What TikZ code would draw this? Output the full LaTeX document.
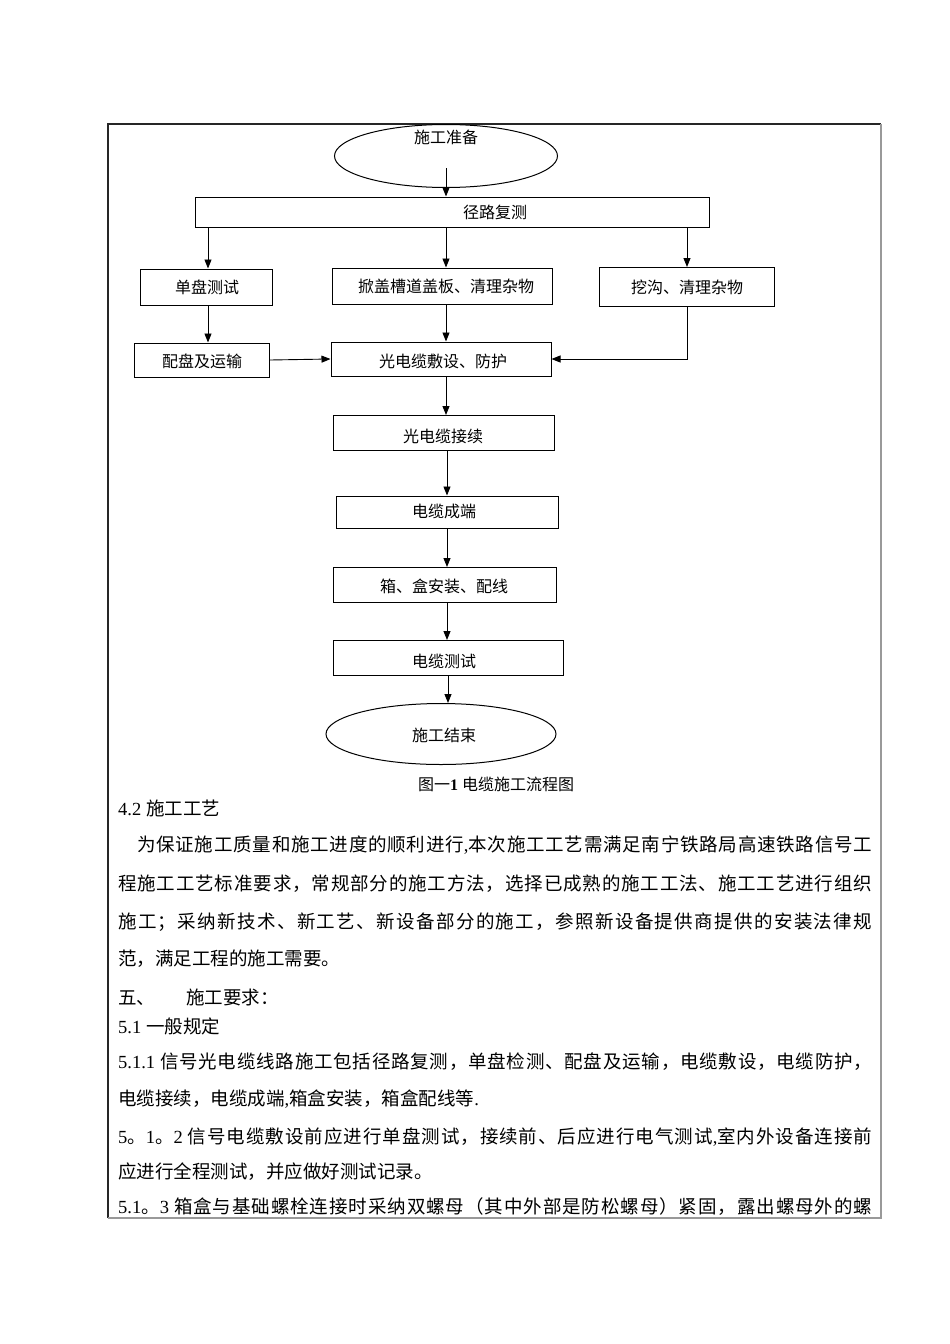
\documentclass[tikz,border=0pt]{standalone}
\usepackage{fontspec}
\setmainfont{Noto Sans CJK SC}
\newfontfamily\lat{Liberation Serif}
\usetikzlibrary{shapes.geometric,arrows.meta}
% stretchable glue between Chinese characters, for justified lines
\newcount\hanidx
\hanidx="4E00
\loop \XeTeXcharclass\hanidx=7 \advance\hanidx by 1 \ifnum\hanidx<"A000 \repeat
\XeTeXcharclass"3001=7 \XeTeXcharclass"3002=7
\XeTeXcharclass"FF0C=7 \XeTeXcharclass"FF1B=7 \XeTeXcharclass"FF1A=7
\XeTeXcharclass"FF08=7 \XeTeXcharclass"FF09=7
\XeTeXinterchartokenstate=1
\XeTeXinterchartoks 7 7 = {\hskip 0pt plus 3pt\relax}
\begin{document}
\begin{tikzpicture}[x=1pt,y=-1pt,
  box/.style={draw,line width=1pt,inner sep=0pt},
  oval/.style={draw,ellipse,line width=1pt,inner sep=0pt},
  txt/.style={inner sep=0pt,font=\fontsize{16}{16}\selectfont},
  arr/.style={line width=0.9pt,-{Triangle[length=9pt,width=7pt]}},
  para/.style={anchor=west,inner sep=0pt,font=\fontsize{18.5}{18.5}\selectfont}]
\useasboundingbox (0,0) rectangle (950,1344);
% frame
\draw[line width=1.2pt,black!85] (108,1218) -- (108,124) -- (881,124);
\draw[line width=1.2pt,black!40] (881,124) -- (881,1218) -- (108,1218);
% flow chart
\node[oval,minimum width=223pt,minimum height=63pt] (start) at (446,156) {};
\node[txt] (startlbl) at (446,137) {施工准备};
\node[box,minimum width=514pt,minimum height=30pt] (route) at (452,212) {};
\node[txt] (routelbl) at (495,212) {径路复测};
\node[box,minimum width=132pt,minimum height=36pt] (test) at (206,287) {}; \node[txt] (testlbl) at (207,287) {单盘测试};
\node[box,minimum width=220pt,minimum height=36pt] (cover) at (442,286) {}; \node[txt] (coverlbl) at (446,286) {掀盖槽道盖板、清理杂物};
\node[box,minimum width=175pt,minimum height=39pt] (ditch) at (687,287) {}; \node[txt] (ditchlbl) at (687,287) {挖沟、清理杂物};
\node[box,minimum width=135pt,minimum height=34pt] (ship) at (202,360) {}; \node[txt] (shiplbl) at (202,361) {配盘及运输};
\node[box,minimum width=220pt,minimum height=34pt] (lay) at (441,359) {}; \node[txt] (laylbl) at (443,361) {光电缆敷设、防护};
\node[box,minimum width=221pt,minimum height=35pt] (joint) at (444,433) {}; \node[txt] (jointlbl) at (443,436) {光电缆接续};
\node[box,minimum width=222pt,minimum height=32pt] (term) at (447,512) {}; \node[txt] (termlbl) at (444,511) {电缆成端};
\node[box,minimum width=223pt,minimum height=35pt] (mount) at (445,585) {}; \node[txt] (mountlbl) at (444,586) {箱、盒安装、配线};
\node[box,minimum width=230pt,minimum height=35pt] (ctest) at (448,658) {}; \node[txt] (ctestlbl) at (444,661) {电缆测试};
\node[oval,minimum width=230pt,minimum height=61pt] (finish) at (441,734) {}; \node[txt] (finishlbl) at (444,735) {施工结束};
\node[inner sep=0pt,font=\fontsize{16}{16}\selectfont] (cap) at (496,784) {图一{\lat\bfseries 1}\hspace{4pt}电缆施工流程图};
\draw[arr] ([yshift=-12pt]start.center) -- (start.center |- route.north);
\draw[arr] (route.south -| 208,0) -- (test.north -| 208,0);
\draw[arr] (route.south -| 446,0) -- (cover.north -| 446,0);
\draw[arr] (route.south -| ditch.north) -- (ditch.north);
\draw[arr] (test.south -| 208,0) -- (ship.north -| 208,0);
\draw[arr] (cover.south -| 446,0) -- (lay.north -| 446,0);
\draw[arr] (ship.east) -- (lay.west);
\draw[arr] (ditch.south) |- (lay.east);
\draw[arr] (lay.south -| 446,0) -- (joint.north -| 446,0);
\draw[arr] (joint.south -| 447,0) -- (term.north -| 447,0);
\draw[arr] (term.south -| 447,0) -- (mount.north -| 447,0);
\draw[arr] (mount.south -| 447,0) -- (ctest.north -| 447,0);
\draw[arr] (ctest.south -| 448,0) -- (finish.north -| 448,0);
% text below
\node[para] (l1) at (118,808) {{\lat 4.2}\hspace{5pt}施工工艺};
\node[para] (l2) at (137,845) {\makebox[735pt][s]{为保证施工质量和施工进度的顺利进行{\lat ,}本次施工工艺需满足南宁铁路局高速铁路信号工}};
\node[para] (l3) at (118,884) {\makebox[754pt][s]{程施工工艺标准要求，常规部分的施工方法，选择已成熟的施工工法、施工工艺进行组织}};
\node[para] (l4) at (118,922) {\makebox[754pt][s]{施工；采纳新技术、新工艺、新设备部分的施工，参照新设备提供商提供的安装法律规}};
\node[para] (l5) at (118,959) {范，满足工程的施工需要。};
\node[para] (l6) at (118,997) {\makebox[68pt][l]{五、}施工要求：};
\node[para] (l7) at (118,1026) {{\lat 5.1}\hspace{5pt}一般规定};
\node[para] (l8) at (118,1062) {\makebox[754pt][s]{{\lat 5.1.1}\hspace{5pt}信号光电缆线路施工包括径路复测，单盘检测、配盘及运输，电缆敷设，电缆防护，}};
\node[para] (l9) at (118,1099) {电缆接续，电缆成端{\lat ,}箱盒安装，箱盒配线等{\lat .}};
\node[para] (l10) at (118,1137) {\makebox[754pt][s]{{\lat 5}。{\lat 1}。{\lat 2}\hspace{5pt}信号电缆敷设前应进行单盘测试，接续前、后应进行电气测试{\lat ,}室内外设备连接前}};
\node[para] (l11) at (118,1172) {应进行全程测试，并应做好测试记录。};
\node[para] (l12) at (118,1207) {\makebox[754pt][s]{{\lat 5.1}。{\lat 3}\hspace{5pt}箱盒与基础螺栓连接时采纳双螺母（其中外部是防松螺母）紧固，露出螺母外的螺}};
\end{tikzpicture}
\end{document}
